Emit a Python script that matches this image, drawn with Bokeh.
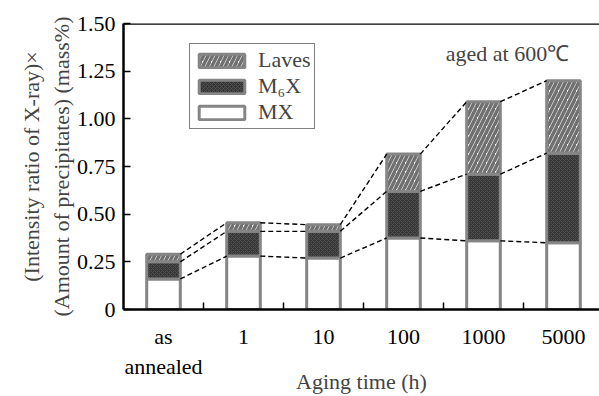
from bokeh.plotting import figure
from bokeh.models import (FixedTicker, Legend, LegendItem, Span, Label,
                          ColumnDataSource, Range1d)
from bokeh.embed import file_html
from bokeh.resources import INLINE
import numpy as np

# ---- data ----
categories = ["as\nannealed", "1", "10", "100", "1000", "5000"]
mx = [0.16, 0.28, 0.27, 0.375, 0.36, 0.35]
m6x = [0.09, 0.13, 0.14, 0.245, 0.35, 0.47]
laves = [0.04, 0.045, 0.035, 0.195, 0.38, 0.38]
y_ticks = [0, 0.25, 0.5, 0.75, 1.0, 1.25, 1.5]
y_tick_labels = ["0", "0.25", "0.50", "0.75", "1.00", "1.25", "1.50"]

FONT = "Liberation Serif"
BAR_W = 0.42

x = list(range(len(categories)))
src = ColumnDataSource(dict(x=x, MX=mx, M6X=m6x, Laves=laves))

p = figure(width=599, height=396, x_range=Range1d(-0.5, 5.45),
           y_range=Range1d(0, 1.5), output_backend="svg",
           toolbar_location=None, min_border_left=123, min_border_right=0,
           min_border_top=23, min_border_bottom=87)
p.outline_line_color = None
p.grid.visible = False
p.background_fill_color = "white"

rs = p.vbar_stack(["MX", "M6X", "Laves"], x="x", width=BAR_W, source=src,
                  fill_color=["white", "#363636", "white"],
                  line_color="#858585", line_width=3,
                  hatch_pattern=[" ", "x", "/"],
                  hatch_color=["white", "#505050", "#707070"],
                  hatch_weight=[1, 1, 3.5],
                  hatch_scale=[6, 4, 9])

# dashed connector lines between consecutive bars
lvl1 = np.array(mx)
lvl2 = lvl1 + np.array(m6x)
lvl3 = lvl2 + np.array(laves)
xs = np.array(x, dtype=float)
for lv in (lvl1, lvl2, lvl3):
    p.segment(x0=xs[:-1] + BAR_W / 2, y0=lv[:-1], x1=xs[1:] - BAR_W / 2,
              y1=lv[1:], line_color="black", line_width=1.4, line_dash="5 3")

# top border
p.add_layout(Span(location=1.5, dimension="width", line_color="black",
                  line_width=2.5))

# legend
legend = Legend(items=[LegendItem(label="Laves", renderers=[rs[2]]),
                       LegendItem(label="M₆X", renderers=[rs[1]]),
                       LegendItem(label="MX", renderers=[rs[0]])],
                location=(66, 180), glyph_width=57, glyph_height=17,
                label_height=20, spacing=0, padding=3,
                margin=0, label_text_font=FONT, label_text_font_size="22px",
                label_standoff=8, border_line_color="black",
                border_line_width=1.5, background_fill_alpha=1)
p.add_layout(legend)

p.add_layout(Label(x=4.3, y=1.342, text="aged at 600℃", text_font=FONT,
                   text_font_size="22px", text_align="center",
                   text_baseline="middle"))

# x axis
xa = p.xaxis[0]
xa.ticker = FixedTicker(ticks=x, minor_ticks=[0.5, 1.5, 2.5, 3.5, 4.5])
xa.major_label_overrides = {i: c for i, c in zip(x, categories)}
xa.major_tick_in = 0
xa.major_tick_out = 0
xa.minor_tick_in = 7
xa.minor_tick_out = 0
xa.minor_tick_line_color = "black"
xa.minor_tick_line_width = 1.5
xa.axis_line_width = 2.5
xa.major_label_standoff = 14
xa.major_label_text_font = FONT
xa.major_label_text_font_size = "22px"
xa.major_label_text_color = "black"
xa.axis_label = "Aging time (h)"
xa.axis_label_text_font = FONT
xa.axis_label_text_font_size = "22px"
xa.axis_label_text_font_style = "normal"
xa.axis_label_standoff = -13

# y axis
ya = p.yaxis[0]
ya.ticker = FixedTicker(ticks=y_ticks)
ya.major_label_overrides = {t: l for t, l in zip(y_ticks, y_tick_labels)}
ya.major_tick_in = 7
ya.major_tick_out = 0
ya.major_tick_line_width = 1.5
ya.minor_tick_line_color = None
ya.axis_line_width = 2.5
ya.major_label_standoff = 8
ya.major_label_text_font = FONT
ya.major_label_text_font_size = "22px"
ya.major_label_text_color = "black"
ya.axis_label = "(Intensity ratio of X-ray)×\n(Amount of precipitates) (mass%)"
ya.axis_label_text_font = FONT
ya.axis_label_text_font_size = "22px"
ya.axis_label_text_font_style = "normal"
ya.axis_label_standoff = 0

open("out.html", "w").write(file_html(p, INLINE))
